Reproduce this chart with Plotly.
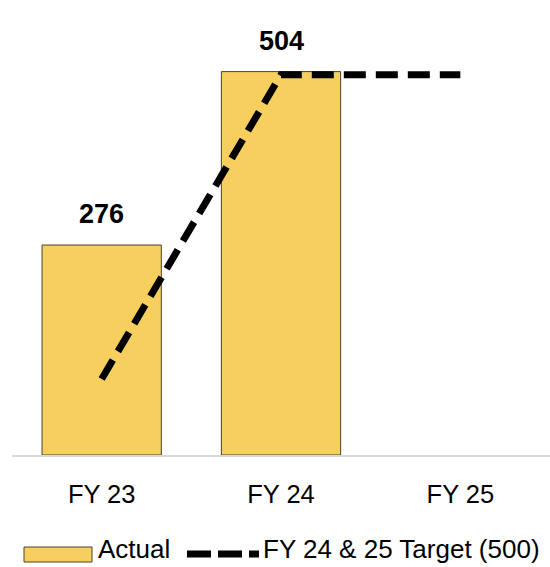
import plotly.graph_objects as go

categories = ["FY 23", "FY 24", "FY 25"]
actual = [276, 504, None]
target = [100, 500, 500]
bar_labels = ["276", "504", ""]

BAR_COLOR = "#F7CF5F"
FONT = "Liberation Sans, Arial, sans-serif"

# plot area in pixels: x from 12 to 550, y from 29 (top) to 455 (axis)
PX_L, PX_W = 12, 538
PY_B, PY_H = 455, 426


def px(x):
    return (x - PX_L) / PX_W


def py(y):
    return (PY_B - y) / PY_H


fig = go.Figure()

fig.add_trace(go.Bar(
    x=categories, y=actual, name="Actual",
    marker=dict(color=BAR_COLOR, line=dict(color="#4a4030", width=1)),
    width=0.665, showlegend=False,
))

fig.add_trace(go.Scatter(
    x=categories, y=target, name="FY 24 & 25 Target (500)",
    mode="lines", line=dict(color="black", width=7, dash="22px,10px"),
    showlegend=False,
))

# value labels above the bars
for c, v, t in zip(categories, actual, bar_labels):
    if v is not None:
        fig.add_annotation(x=c, y=v, text=f"<b>{t}</b>", showarrow=False,
                           yanchor="bottom", yshift=14,
                           font=dict(size=27, color="black", family=FONT))

# hand-built legend row below the axis
LEG_Y = 554
TXT_Y = 549
fig.add_shape(type="rect", xref="paper", yref="paper",
              x0=px(24), x1=px(92), y0=py(562), y1=py(547),
              fillcolor=BAR_COLOR, line=dict(color="#4a4030", width=1))
fig.add_annotation(xref="paper", yref="paper", x=px(96), y=py(TXT_Y),
                   text="Actual", showarrow=False, xanchor="left", yanchor="middle",
                   font=dict(size=26, color="black", family=FONT))
fig.add_shape(type="line", xref="paper", yref="paper",
              x0=px(187), x1=px(259), y0=py(LEG_Y), y1=py(LEG_Y),
              line=dict(color="black", width=7, dash="24px,7px"))
fig.add_annotation(xref="paper", yref="paper", x=px(261), y=py(TXT_Y),
                   text="FY 24 & 25 Target (500)", showarrow=False,
                   xanchor="left", yanchor="middle",
                   font=dict(size=26, color="black", family=FONT))

fig.update_layout(
    width=550, height=567,
    margin=dict(l=12, r=0, t=29, b=112),
    paper_bgcolor="white", plot_bgcolor="white",
    font=dict(family=FONT, size=25, color="black"),
    xaxis=dict(range=[-0.5, 2.5], showline=True, linecolor="#d9d9d9", linewidth=2,
               ticks="", ticklabelstandoff=15, showgrid=False,
               tickfont=dict(size=25.5, color="black", family=FONT)),
    yaxis=dict(range=[0, 560], visible=False, showgrid=False, zeroline=False),
)

fig.write_html("out.html")
